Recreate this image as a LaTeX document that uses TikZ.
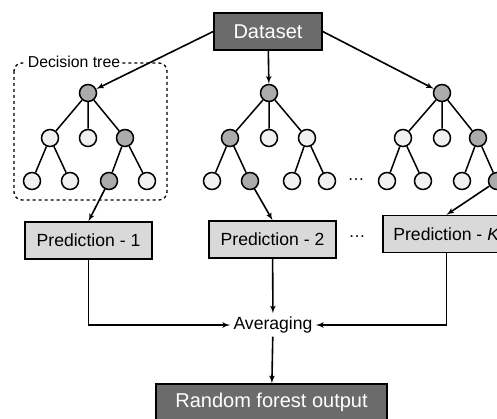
\documentclass[tikz,border=0pt]{standalone}
\usepackage{fontspec}
\setmainfont{Liberation Sans}
\usetikzlibrary{arrows}

\begin{document}
\begin{tikzpicture}[x=1pt,y=-1pt]

\tikzset{vertex/.style = {shape=circle,draw,line width=1.5pt,minimum size=17pt,inner sep=0pt,fill=black!6}}
\tikzset{hit/.style = {vertex,fill=black!33}}
\tikzset{branch/.style = {line width=1.5pt}}
\tikzset{predbox/.style = {draw,line width=1.5pt,minimum width=127pt,minimum height=37pt,fill=black!15,font=\fontsize{17.6}{20}\selectfont}}
\tikzset{darkbox/.style = {draw,line width=1.5pt,minimum height=37pt,fill=black!58,text=white,font=\fontsize{20}{24}\selectfont}}
\tikzset{edge/.style = {->,> = latex',line width=1.6pt}}

\useasboundingbox (0,0) rectangle (497,419);

% decision tree frame
\draw[dashed,line width=1.3pt,rounded corners=8pt] (14,63) rectangle (167,200);
\node[fill=white,inner sep=2pt,font=\fontsize{15.8}{18}\selectfont] (dtlabel) at (74,62) {Decision tree};

% dataset
\node[darkbox,minimum width=108pt] (data) at (268,31.5) {Dataset};

% tree 1
\node[hit] (r1) at (88,93) {};
\node[vertex] (a1) at (50,138) {};
\node[vertex] (b1) at (88,138) {};
\node[hit] (c1) at (125,138) {};
\node[vertex] (d1) at (32,181) {};
\node[vertex] (e1) at (70,181) {};
\node[hit] (f1) at (109,181) {};
\node[vertex] (g1) at (147,181) {};
% tree 2
\node[hit] (r2) at (269,93) {};
\node[hit] (a2) at (230,138) {};
\node[vertex] (b2) at (269,138) {};
\node[vertex] (c2) at (307,138) {};
\node[vertex] (d2) at (212,181) {};
\node[hit] (e2) at (250,181) {};
\node[vertex] (f2) at (292,181) {};
\node[vertex] (g2) at (327,181) {};
% tree 3
\node[hit] (r3) at (442,93) {};
\node[vertex] (a3) at (403,138) {};
\node[vertex] (b3) at (442,138) {};
\node[hit] (c3) at (478,138) {};
\node[vertex] (d3) at (387,181) {};
\node[vertex] (e3) at (423,181) {};
\node[vertex] (f3) at (462,181) {};
\node[hit] (g3) at (497,181) {};

\foreach \t in {1,2,3}
  \draw[branch] (r\t) -- (a\t) (r\t) -- (b\t) (r\t) -- (c\t)
                (a\t) -- (d\t) (a\t) -- (e\t) (c\t) -- (f\t) (c\t) -- (g\t);

\node[font=\fontsize{17}{18}\selectfont] (dotsa) at (356,180) {\dots};

\draw[edge] (data.west) -- (r1);
\draw[edge] (data) -- (r2);
\draw[edge] (data.east) -- (r3);

% predictions
\node[predbox] (p1) at (88.5,240.5) {Prediction - 1};
\node[predbox] (p2) at (272.5,239.5) {Prediction - 2};
\node[predbox] (pk) at (446.5,234) {Prediction - \textit{K}};
\node[font=\fontsize{17}{18}\selectfont] (dotsb) at (357,237) {\dots};

\draw[edge] (f1) -- (p1.north);
\draw[edge] (e2) -- (p2.north);
\draw[edge] (g3) -- (pk.north);

% averaging
\node[font=\fontsize{17.6}{20}\selectfont] (avg) at (273,325) {Averaging};
\draw[edge] (p1.south) |- (avg.west);
\draw[edge] (p2) -- (avg);
\draw[edge] (pk.south) |- (avg.east);

\node[darkbox,minimum width=231pt] (out) at (271.5,402.5) {Random forest output};
\draw[edge] (avg) -- (out);
\end{tikzpicture}
\end{document}
